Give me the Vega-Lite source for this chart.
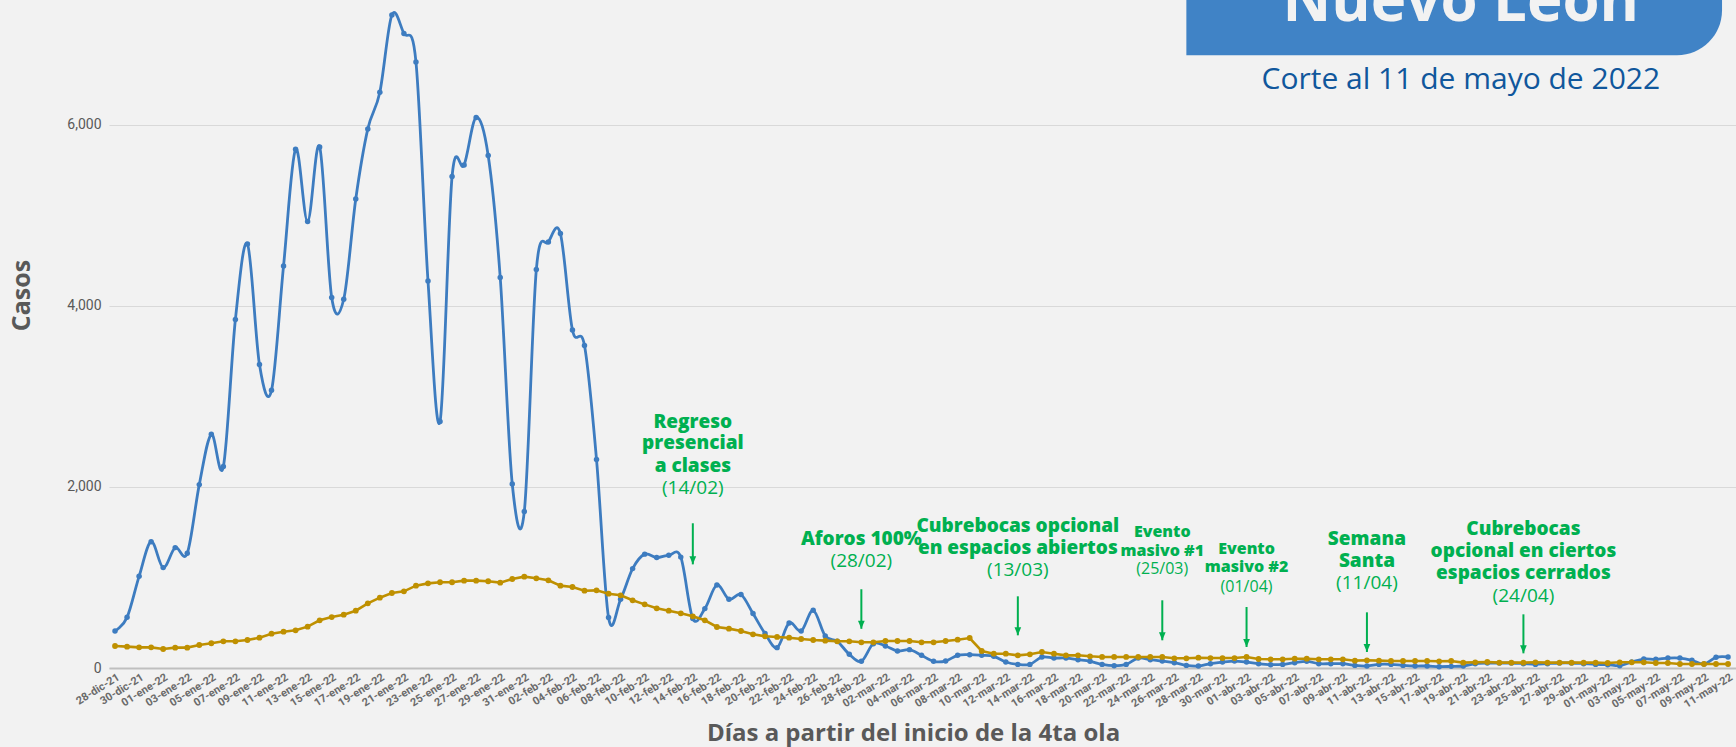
{
  "$schema": "https://vega.github.io/schema/vega-lite/v6.json",
  "autosize": {"type": "none"},
  "padding": {"left": 109, "top": 0, "right": 0, "bottom": 79},
  "width": 1627,
  "height": 668,
  "background": "#f2f2f2",
  "config": {"view": {"stroke": null}, "axisX": {"labelOverlap": false}},
  "resolve": {"axis": {"x": "independent", "y": "independent"}},
  "datasets": {
    "serie": [
      {"dia":0,"casos":409,"promedio":243},{"dia":1,"casos":560,"promedio":236},{"dia":2,"casos":1013,"promedio":228},{"dia":3,"casos":1396,"promedio":228},{"dia":4,"casos":1109,"promedio":210},{"dia":5,"casos":1330,"promedio":225},{"dia":6,"casos":1267,"promedio":225},{"dia":7,"casos":2026,"promedio":254},{"dia":8,"casos":2582,"promedio":273},{"dia":9,"casos":2225,"promedio":295},
      {"dia":10,"casos":3850,"promedio":295},{"dia":11,"casos":4685,"promedio":309},{"dia":12,"casos":3352,"promedio":335},{"dia":13,"casos":3068,"promedio":379},{"dia":14,"casos":4442,"promedio":401},{"dia":15,"casos":5731,"promedio":416},{"dia":16,"casos":4932,"promedio":457},{"dia":17,"casos":5757,"promedio":527},{"dia":18,"casos":4093,"promedio":563},{"dia":19,"casos":4074,"promedio":589},
      {"dia":20,"casos":5182,"promedio":633},{"dia":21,"casos":5956,"promedio":714},{"dia":22,"casos":6361,"promedio":777},{"dia":23,"casos":7215,"promedio":829},{"dia":24,"casos":7010,"promedio":847},{"dia":25,"casos":6696,"promedio":910},{"dia":26,"casos":4276,"promedio":935},{"dia":27,"casos":2723,"promedio":947},{"dia":28,"casos":5430,"promedio":947},{"dia":29,"casos":5558,"promedio":965},
      {"dia":30,"casos":6082,"promedio":965},{"dia":31,"casos":5662,"promedio":958},{"dia":32,"casos":4314,"promedio":943},{"dia":33,"casos":2033,"promedio":983},{"dia":34,"casos":1728,"promedio":1009},{"dia":35,"casos":4402,"promedio":991},{"dia":36,"casos":4707,"promedio":969},{"dia":37,"casos":4800,"promedio":910},{"dia":38,"casos":3735,"promedio":895},{"dia":39,"casos":3562,"promedio":854},
      {"dia":40,"casos":2303,"promedio":858},{"dia":41,"casos":557,"promedio":821},{"dia":42,"casos":759,"promedio":803},{"dia":43,"casos":1098,"promedio":748},{"dia":44,"casos":1258,"promedio":703},{"dia":45,"casos":1220,"promedio":659},{"dia":46,"casos":1245,"promedio":633},{"dia":47,"casos":1225,"promedio":604},{"dia":48,"casos":546,"promedio":571},{"dia":49,"casos":656,"promedio":527},
      {"dia":50,"casos":917,"promedio":453},{"dia":51,"casos":759,"promedio":435},{"dia":52,"casos":811,"promedio":409},{"dia":53,"casos":601,"promedio":372},{"dia":54,"casos":380,"promedio":350},{"dia":55,"casos":225,"promedio":343},{"dia":56,"casos":497,"promedio":335},{"dia":57,"casos":409,"promedio":320},{"dia":58,"casos":637,"promedio":309},{"dia":59,"casos":354,"promedio":302},
      {"dia":60,"casos":295,"promedio":295},{"dia":61,"casos":151,"promedio":295},{"dia":62,"casos":74,"promedio":284},{"dia":63,"casos":269,"promedio":284},{"dia":64,"casos":243,"promedio":298},{"dia":65,"casos":188,"promedio":298},{"dia":66,"casos":203,"promedio":298},{"dia":67,"casos":140,"promedio":284},{"dia":68,"casos":74,"promedio":284},{"dia":69,"casos":77,"promedio":298},
      {"dia":70,"casos":140,"promedio":313},{"dia":71,"casos":147,"promedio":331},{"dia":72,"casos":140,"promedio":188},{"dia":73,"casos":129,"promedio":158},{"dia":74,"casos":66,"promedio":158},{"dia":75,"casos":40,"promedio":140},{"dia":76,"casos":40,"promedio":151},{"dia":77,"casos":121,"promedio":177},{"dia":78,"casos":110,"promedio":158},{"dia":79,"casos":110,"promedio":140},
      {"dia":80,"casos":92,"promedio":140},{"dia":81,"casos":74,"promedio":129},{"dia":82,"casos":40,"promedio":122},{"dia":83,"casos":26,"promedio":122},{"dia":84,"casos":40,"promedio":122},{"dia":85,"casos":110,"promedio":122},{"dia":86,"casos":92,"promedio":122},{"dia":87,"casos":77,"promedio":122},{"dia":88,"casos":59,"promedio":107},{"dia":89,"casos":29,"promedio":107},
      {"dia":90,"casos":22,"promedio":114},{"dia":91,"casos":48,"promedio":110},{"dia":92,"casos":66,"promedio":110},{"dia":93,"casos":77,"promedio":110},{"dia":94,"casos":66,"promedio":122},{"dia":95,"casos":48,"promedio":99},{"dia":96,"casos":37,"promedio":96},{"dia":97,"casos":40,"promedio":96},{"dia":98,"casos":59,"promedio":103},{"dia":99,"casos":74,"promedio":103},
      {"dia":100,"casos":48,"promedio":96},{"dia":101,"casos":48,"promedio":96},{"dia":102,"casos":48,"promedio":96},{"dia":103,"casos":29,"promedio":81},{"dia":104,"casos":22,"promedio":85},{"dia":105,"casos":40,"promedio":81},{"dia":106,"casos":40,"promedio":77},{"dia":107,"casos":29,"promedio":77},{"dia":108,"casos":22,"promedio":77},{"dia":109,"casos":22,"promedio":77},
      {"dia":110,"casos":15,"promedio":74},{"dia":111,"casos":18,"promedio":77},{"dia":112,"casos":22,"promedio":59},{"dia":113,"casos":48,"promedio":63},{"dia":114,"casos":55,"promedio":66},{"dia":115,"casos":55,"promedio":59},{"dia":116,"casos":55,"promedio":59},{"dia":117,"casos":48,"promedio":59},{"dia":118,"casos":40,"promedio":63},{"dia":119,"casos":48,"promedio":59},
      {"dia":120,"casos":55,"promedio":59},{"dia":121,"casos":55,"promedio":59},{"dia":122,"casos":48,"promedio":59},{"dia":123,"casos":40,"promedio":59},{"dia":124,"casos":37,"promedio":55},{"dia":125,"casos":26,"promedio":63},{"dia":126,"casos":66,"promedio":63},{"dia":127,"casos":99,"promedio":63},{"dia":128,"casos":96,"promedio":55},{"dia":129,"casos":110,"promedio":55},
      {"dia":130,"casos":110,"promedio":44},{"dia":131,"casos":85,"promedio":44},{"dia":132,"casos":44,"promedio":44},{"dia":133,"casos":118,"promedio":44},{"dia":134,"casos":122,"promedio":44}
    ],
    "caja": [{"desde": 89.0, "hasta": 133.5, "abajo": 6770, "arriba": 9500}],
    "titulo": [{"dia": 111.8, "nivel": 7146, "texto": "Nuevo León"}],
    "subtitulo": [{"dia": 111.8, "nivel": 6394, "texto": "Corte al 11 de mayo de 2022"}],
    "flechas": [
      {"dia": 48, "desde": 1599, "hasta": 1145},
      {"dia": 62, "desde": 870, "hasta": 433},
      {"dia": 75, "desde": 792, "hasta": 361},
      {"dia": 87, "desde": 748, "hasta": 306},
      {"dia": 94, "desde": 674, "hasta": 232},
      {"dia": 104, "desde": 615, "hasta": 177},
      {"dia": 117, "desde": 593, "hasta": 162}
    ],
    "eventoGrande": [
      {"dia": 48, "nivel": 2718, "texto": "Regreso"},
      {"dia": 48, "nivel": 2483, "texto": "presencial"},
      {"dia": 48, "nivel": 2232, "texto": "a clases"},
      {"dia": 62, "nivel": 1422, "texto": "Aforos 100%"},
      {"dia": 75, "nivel": 1566, "texto": "Cubrebocas opcional"},
      {"dia": 75, "nivel": 1326, "texto": "en espacios abiertos"},
      {"dia": 104, "nivel": 1422, "texto": "Semana"},
      {"dia": 104, "nivel": 1182, "texto": "Santa"},
      {"dia": 117, "nivel": 1533, "texto": "Cubrebocas"},
      {"dia": 117, "nivel": 1293, "texto": "opcional en ciertos"},
      {"dia": 117, "nivel": 1046, "texto": "espacios cerrados"}
    ],
    "eventoChico": [
      {"dia": 87, "nivel": 1503, "texto": "Evento"},
      {"dia": 87, "nivel": 1293, "texto": "masivo #1"},
      {"dia": 94, "nivel": 1312, "texto": "Evento"},
      {"dia": 94, "nivel": 1113, "texto": "masivo #2"}
    ],
    "fechaGrande": [
      {"dia": 48, "nivel": 1989, "texto": "(14/02)"},
      {"dia": 62, "nivel": 1179, "texto": "(28/02)"},
      {"dia": 75, "nivel": 1080, "texto": "(13/03)"},
      {"dia": 104, "nivel": 939, "texto": "(11/04)"},
      {"dia": 117, "nivel": 796, "texto": "(24/04)"}
    ],
    "fechaChica": [
      {"dia": 87, "nivel": 1091, "texto": "(25/03)"},
      {"dia": 94, "nivel": 895, "texto": "(01/04)"}
    ]
  },
  "layer": [
    {
      "data": {"name": "serie"},
      "mark": {"type": "line", "interpolate": "cardinal", "color": "#3d7cc0", "strokeWidth": 2.8, "point": {"filled": true, "size": 30, "color": "#3d7cc0"}},
      "encoding": {
        "x": {
          "field": "dia", "type": "quantitative",
          "scale": {"domain": [-0.5, 134.66], "nice": false, "zero": false},
          "axis": {
            "values": [0,2,4,6,8,10,12,14,16,18,20,22,24,26,28,30,32,34,36,38,40,42,44,46,48,50,52,54,56,58,60,62,64,66,68,70,72,74,76,78,80,82,84,86,88,90,92,94,96,98,100,102,104,106,108,110,112,114,116,118,120,122,124,126,128,130,132,134],
            "labelExpr": "timeFormat(datetime(2021, 11, 28 + datum.value), '%d') + '-' + ['ene','feb','mar','abr','may','jun','jul','ago','sep','oct','nov','dic'][month(datetime(2021, 11, 28 + datum.value))] + '-' + timeFormat(datetime(2021, 11, 28 + datum.value), '%y')",
            "labelAngle": -32, "labelFont": "Roboto", "labelFontSize": 11, "labelFontWeight": "bold", "labelColor": "#6b6b6b",
            "labelPadding": 3, "labelOverlap": false, "labelFlush": false, "labelBound": false,
            "ticks": false, "grid": false, "domainColor": "#bfbfbf", "domainWidth": 2,
            "title": "Días a partir del inicio de la 4ta ola",
            "titleFont": "Open Sans", "titleFontSize": 24, "titleFontWeight": "bold", "titleColor": "#595959",
            "titleX": 804, "titleY": 65, "titleBaseline": "middle", "titleAnchor": "middle"
          }
        },
        "y": {
          "field": "casos", "type": "quantitative",
          "scale": {"domain": [0, 7380], "nice": false},
          "axis": {
            "values": [0, 2000, 4000, 6000], "format": ",d",
            "labelFont": "Roboto", "labelFontSize": 14, "labelColor": "#595959", "labelPadding": 8,
            "ticks": false, "domain": false, "grid": true, "gridColor": "#d9d9d9", "gridWidth": 1,
            "title": "Casos", "titleFont": "Open Sans", "titleFontSize": 25, "titleFontWeight": "bold", "titleColor": "#595959",
            "titleX": -88, "titleY": 295, "titleBaseline": "middle", "titleAngle": -90, "titleAnchor": "middle"
          }
        }
      }
    },
    {
      "data": {"name": "serie"},
      "mark": {"type": "line", "color": "#bf9000", "strokeWidth": 2.6, "point": {"filled": true, "size": 34, "color": "#bf9000"}},
      "encoding": {
        "x": {"field": "dia", "type": "quantitative", "axis": null},
        "y": {"field": "promedio", "type": "quantitative", "axis": null}
      }
    },
    {
      "data": {"name": "caja"},
      "mark": {"type": "rect", "color": "#4083c6", "cornerRadiusBottomRight": 45},
      "encoding": {
        "x": {"field": "desde", "type": "quantitative", "axis": null},
        "x2": {"field": "hasta"},
        "y": {"field": "abajo", "type": "quantitative", "axis": null},
        "y2": {"field": "arriba"}
      }
    },
    {
      "data": {"name": "titulo"},
      "mark": {"type": "text", "font": "Open Sans", "fontSize": 60, "fontWeight": "bold", "color": "#f2f2f2", "align": "center", "baseline": "alphabetic"},
      "encoding": {
        "x": {"field": "dia", "type": "quantitative", "axis": null},
        "y": {"field": "nivel", "type": "quantitative", "axis": null},
        "text": {"field": "texto"}
      }
    },
    {
      "data": {"name": "subtitulo"},
      "mark": {"type": "text", "font": "Open Sans", "fontSize": 30, "color": "#10579c", "align": "center", "baseline": "alphabetic"},
      "encoding": {
        "x": {"field": "dia", "type": "quantitative", "axis": null},
        "y": {"field": "nivel", "type": "quantitative", "axis": null},
        "text": {"field": "texto"}
      }
    },
    {
      "data": {"name": "flechas"},
      "mark": {"type": "rule", "color": "#00b050", "strokeWidth": 2},
      "encoding": {
        "x": {"field": "dia", "type": "quantitative", "axis": null},
        "y": {"field": "desde", "type": "quantitative", "axis": null},
        "y2": {"field": "hasta"}
      }
    },
    {
      "data": {"name": "flechas"},
      "mark": {"type": "point", "shape": "M-0.42,-1L0,0L0.42,-1Z", "size": 256, "filled": true, "color": "#00b050", "opacity": 1},
      "encoding": {
        "x": {"field": "dia", "type": "quantitative", "axis": null},
        "y": {"field": "hasta", "type": "quantitative", "axis": null}
      }
    },
    {
      "data": {"name": "eventoGrande"},
      "mark": {"type": "text", "font": "Open Sans", "fontSize": 19, "fontWeight": 800, "color": "#00b050", "align": "center", "baseline": "middle"},
      "encoding": {
        "x": {"field": "dia", "type": "quantitative", "axis": null},
        "y": {"field": "nivel", "type": "quantitative", "axis": null},
        "text": {"field": "texto"}
      }
    },
    {
      "data": {"name": "eventoChico"},
      "mark": {"type": "text", "font": "Open Sans", "fontSize": 16, "fontWeight": 800, "color": "#00b050", "align": "center", "baseline": "middle"},
      "encoding": {
        "x": {"field": "dia", "type": "quantitative", "axis": null},
        "y": {"field": "nivel", "type": "quantitative", "axis": null},
        "text": {"field": "texto"}
      }
    },
    {
      "data": {"name": "fechaGrande"},
      "mark": {"type": "text", "font": "Open Sans", "fontSize": 19, "color": "#00b050", "align": "center", "baseline": "middle"},
      "encoding": {
        "x": {"field": "dia", "type": "quantitative", "axis": null},
        "y": {"field": "nivel", "type": "quantitative", "axis": null},
        "text": {"field": "texto"}
      }
    },
    {
      "data": {"name": "fechaChica"},
      "mark": {"type": "text", "font": "Open Sans", "fontSize": 16, "color": "#00b050", "align": "center", "baseline": "middle"},
      "encoding": {
        "x": {"field": "dia", "type": "quantitative", "axis": null},
        "y": {"field": "nivel", "type": "quantitative", "axis": null},
        "text": {"field": "texto"}
      }
    }
  ]
}
